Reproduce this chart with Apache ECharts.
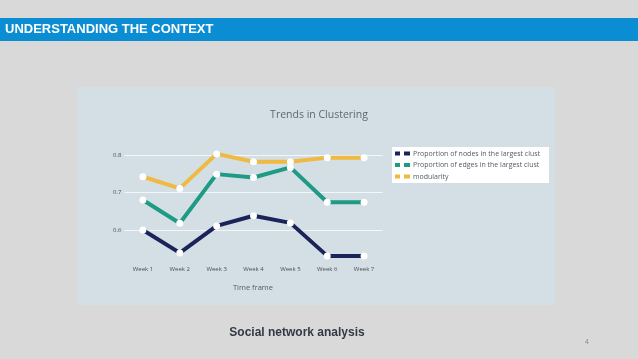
<!DOCTYPE html>
<html><head><meta charset="utf-8">
<script src="https://cdn.jsdelivr.net/npm/echarts@6/dist/echarts.min.js"></script>
<style>html,body{margin:0;padding:0;background:#d9d9d9}#c{width:638px;height:359px}</style>
</head><body><div id="c"></div>
<script>
const weeks = ['Week 1','Week 2','Week 3','Week 4','Week 5','Week 6','Week 7'];
const nodesShare = [0.600, 0.539, 0.611, 0.638, 0.619, 0.531, 0.531];
const edgesShare = [0.680, 0.618, 0.749, 0.740, 0.767, 0.674, 0.674];
const modularity = [0.742, 0.711, 0.803, 0.782, 0.782, 0.793, 0.793];
const yTicks = [0.6, 0.7, 0.8];
const seriesNames = ['Proportion of nodes in the largest clust','Proportion of edges in the largest clust','modularity'];
const colors = ['#1b2459','#1d9b84','#f0b942'];

const chart = echarts.init(document.getElementById('c'));
const legendIcon = 'path://M0,0H5V4H0Z M9,0H15V4H9Z';
function mk(name, data, color){
  return {name, type:'line', data, symbol:'circle', symbolSize:7,
    itemStyle:{color:'#ffffff'}, lineStyle:{color, width:4},
    emphasis:{disabled:true}, animation:false};
}
chart.setOption({
  animation:false,
  backgroundColor:'#d9d9d9',
  graphic:[
    {type:'rect', shape:{x:0,y:18,width:638,height:23}, style:{fill:'#0a8dd2'}, z:-10},
    {type:'text', x:5, y:29.5, style:{text:'UNDERSTANDING THE CONTEXT', fill:'#ffffff', font:'bold 13px "Liberation Sans", Arial, sans-serif', textVerticalAlign:'middle'}, z:-9},
    {type:'rect', shape:{x:77,y:87,width:478,height:218}, style:{fill:'#d3dfe5'}, z:-10},
    {type:'text', x:297, y:333, style:{text:'Social network analysis', fill:'#333945', font:'bold 12px "Liberation Sans", Arial, sans-serif', textAlign:'center', textVerticalAlign:'middle'}, z:-9},
    {type:'text', x:587, y:342, style:{text:'4', fill:'#8a8a8a', font:'7px "Liberation Sans", Arial, sans-serif', textAlign:'center', textVerticalAlign:'middle'}, z:-9},
    {type:'text', x:253, y:288, style:{text:'Time frame', fill:'#555c66', font:'7.5px "Open Sans", sans-serif', textAlign:'center', textVerticalAlign:'middle'}, z:-9}
  ],
  title:{text:'Trends in Clustering', left:314, top:105, textAlign:'center',
    textStyle:{fontFamily:'"Open Sans", sans-serif', fontSize:10.5, fontWeight:'normal', color:'#5f6670'}},
  legend:{orient:'vertical', left:392, top:147, backgroundColor:'#ffffff', padding:[3,9,3,3],
    itemGap:4.5, itemWidth:15, itemHeight:4, icon:legendIcon,
    textStyle:{fontFamily:'"Open Sans", sans-serif', fontSize:7, color:'#555c66', padding:[0,0,0,-2]},
    data:seriesNames.map((n,i)=>({name:n, itemStyle:{color:colors[i]}}))},
  grid:{left:124.5, width:258, top:117.5, height:150},
  xAxis:{type:'category', data:weeks, boundaryGap:true,
    axisLine:{show:false}, axisTick:{show:false}, splitLine:{show:false},
    axisLabel:{margin:-1, fontSize:6, color:'#4a4f57', fontFamily:'"Open Sans", sans-serif'}},
  yAxis:{type:'value', min:0.5, max:0.9, interval:0.1,
    axisLine:{show:false}, axisTick:{show:false},
    splitLine:{show:true, lineStyle:{color:['transparent','#f4f7f9','#f4f7f9','#f4f7f9','transparent'], width:1}},
    axisLabel:{margin:3, fontSize:6, color:'#4a4f57', fontFamily:'"Open Sans", sans-serif',
      formatter:v => yTicks.some(t => Math.abs(t - v) < 1e-9) ? v.toFixed(1) : ''}},
  series:[mk(seriesNames[0], nodesShare, colors[0]), mk(seriesNames[1], edgesShare, colors[1]), mk(seriesNames[2], modularity, colors[2])]
});
</script></body></html>
